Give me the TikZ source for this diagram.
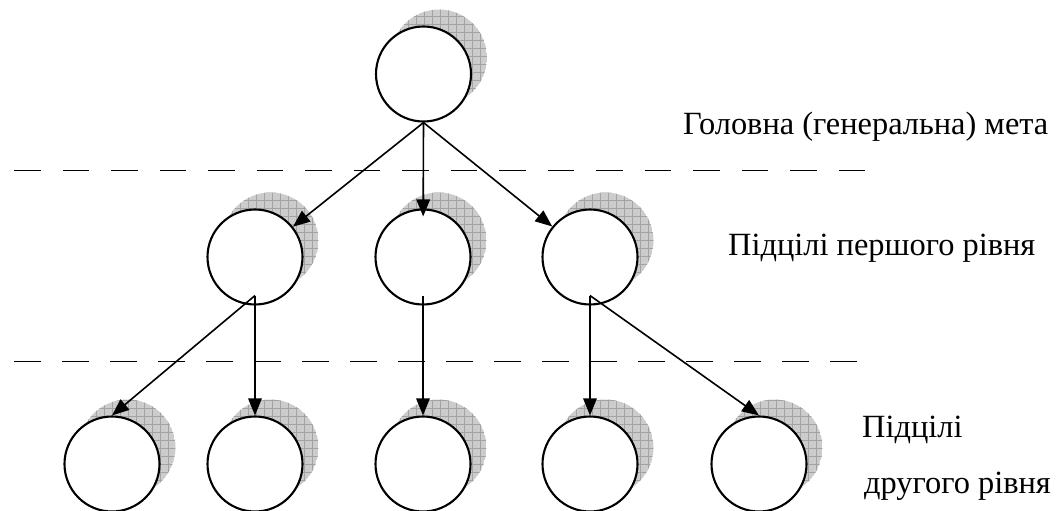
\documentclass[tikz,border=0pt]{standalone}
\usepackage{fontspec}
\setmainfont{Liberation Serif}
\usetikzlibrary{arrows.meta,calc}
\tikzset{
  goal/.style={circle,draw=black,line width=2.1pt,fill=white,minimum size=95pt,inner sep=0pt},
  link/.style={line width=1.6pt,-{Triangle[length=17pt,width=13.5pt]}},
  levelline/.style={line width=1.8pt},
  lbl/.style={anchor=base west,inner sep=0pt,font=\fontsize{32.4pt}{38pt}\selectfont},
  shadowfill/.style={fill=black!20},
  shadowgrid/.style={draw=black!36,line width=0.6pt},
}
\newcommand\goalnode[3]{%
  \begin{scope}
    \clip (#2+15.5,#3-16.5) circle (48pt);
    \fill[shadowfill] (#2+15.5,#3-16.5) circle (48pt);
    \draw[shadowgrid,step=8pt] (#2-40,#3-72) grid (#2+72,#3+40);
  \end{scope}
  \node[goal] (#1) at (#2,#3) {};
}
\begin{document}
\begin{tikzpicture}[x=1pt,y=-1pt]
\useasboundingbox (0,0) rectangle (1061,511);
% level lines
\coordinate (d1s) at (14,170.5);
\coordinate (d1e) at (880,170.5);
\coordinate (d2s) at (14,361.5);
\coordinate (d2e) at (857,361.5);
\draw[levelline,dash pattern=on 26.5pt off 22pt] (d1s) -- (d1e);
\draw[levelline,dash pattern=on 26.5pt off 21.5pt] (d2s) -- (d2e);
% goals
\goalnode{t}{423.5}{74}
\goalnode{a1}{255}{257}
\goalnode{a2}{423}{257}
\goalnode{a3}{590}{257}
\goalnode{b1}{112}{464}
\goalnode{b2}{255}{464}
\goalnode{b3}{423}{464}
\goalnode{b4}{590}{464}
\goalnode{b5}{759}{464}
% start points of lower arrows
\coordinate (a1s) at ($(a1.south)+(0,-10)$);
\coordinate (a2s) at ($(a2.south)+(0,-10)$);
\coordinate (a3s) at ($(a3.south)+(0,-10)$);
% arrows
\draw[link] (t.south) -- (a1);
\draw[link,shorten >=-8pt] (t.south) -- (a2);
\draw[link] (t.south) -- (a3);
\draw[link] (a1s) -- (b1.north);
\draw[link] (a1s) -- (b2.north);
\draw[link] (a2s) -- (b3.north);
\draw[link] (a3s) -- (b4.north);
\draw[link] (a3s) -- (b5.north);
% labels
\node[lbl] (l0) at (683,135) {Головна (генеральна) мета};
\node[lbl] (l1) at (728,255) {Підцілі першого рівня};
\node[lbl] (l2a) at (862,437) {Підцілі};
\node[lbl] (l2b) at (864,493) {другого рівня};
\end{tikzpicture}
\end{document}
